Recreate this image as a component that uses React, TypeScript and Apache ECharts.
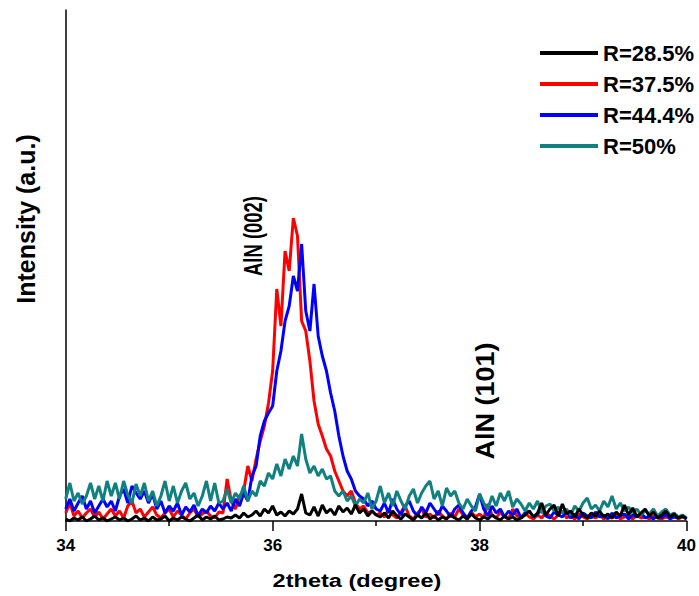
import React, { useEffect, useRef } from 'react';
import * as echarts from 'echarts';

// XRD scans sampled every 0.04 degree from 34 to 40 (151 points)
const START = 34;
const STEP = 0.04;

const seriesNames = ['R=28.5%', 'R=37.5%', 'R=44.4%', 'R=50%'];
const xTicks = [34, 36, 38, 40];

const r285 = [
  2,0,3,1,4,0,2,5,1,3, 0,2,4,1,3,0,2,5,1,3, 0,4,1,2,5,0,3,1,4,2, 0,3,6,1,4,2,5,1,
  2,4,3,6,3,8,4,6,10,5, 12,8,15,6,9,5,10,7,12,27, 8,6,14,5,16,8,12,6,15,9, 13,7,16,8,12,5,10,6,
  4,8,3,10,5,2,7,4,1,6, 3,8,2,5,1,4,2,6,3,1, 5,2,7,3,1,4,2,6,3,1, 5,2,4,1,3,6,10,4,8,18,
  6,12,16,5,17,7,10,4,12,6, 3,8,5,10,4,7,3,9,5,16, 6,13,4,8,12,5,9,3,6,10, 4,7,3,5,2,
];

const r375 = [
  8,18,5,10,3,8,12,4,9,2, 7,12,5,10,3,15,20,8,12,4, 9,14,6,3,8,12,4,10,6,2, 8,12,4,7,10,5,3,9,
  8,42,20,12,25,30,55,40,62,80, 95,118,150,232,195,270,250,303,285,200, 190,160,120,97,85,72,65,50,40,30, 25,30,18,12,15,8,10,6,
  8,4,12,6,3,9,15,5,2,8, 12,4,7,3,10,5,2,8,4,12, 6,2,9,4,7,3,17,6,3,9, 4,2,12,5,3,8,4,2,6,3,
  8,5,2,6,10,3,5,2,7,4, 2,5,3,6,2,4,3,6,2,4, 5,2,6,3,4,2,5,3,2,4, 3,6,2,4,3,
];

const r444 = [
  12,22,10,18,25,12,20,8,15,22, 14,20,10,25,32,18,35,28,22,30, 18,27,12,20,8,15,10,18,6,14, 9,16,5,12,8,15,10,18,
  12,18,10,22,15,28,20,45,55,85, 100,108,115,150,170,200,215,245,230,277, 210,190,237,185,165,150,128,110,85,65, 50,42,30,25,22,15,20,12,
  10,18,8,22,12,6,15,20,10,5, 14,8,18,12,6,15,10,4,12,16, 8,3,10,14,27,12,5,15,8,12, 4,10,6,12,3,8,10,4,7,12,
  5,3,9,6,4,10,3,7,2,8, 5,3,9,4,6,2,8,3,5,7, 2,6,4,8,3,5,2,6,3,7, 2,4,3,5,2,
];

const r50 = [
  22,38,20,28,17,25,38,22,35,20, 40,25,38,22,40,26,18,37,25,38, 20,30,15,25,40,20,35,18,30,38, 22,28,15,25,40,20,38,18,
  20,32,18,28,22,35,20,30,25,40, 35,48,42,57,45,62,52,65,55,87, 62,48,55,45,52,42,45,30,25,30, 20,25,15,22,18,28,12,20,
  35,18,28,15,30,20,12,25,32,18, 28,35,40,22,30,15,33,25,30,18, 12,22,15,10,27,18,12,25,15,28, 20,30,14,22,17,10,18,12,20,8,
  15,17,10,14,8,12,6,15,10,18, 23,12,16,10,20,14,25,12,18,10, 14,8,12,6,10,7,12,5,9,12, 6,8,4,6,3,
];

const colors: Record<string, string> = {
  'R=28.5%': '#000000',
  'R=37.5%': '#ff0000',
  'R=44.4%': '#0000ff',
  'R=50%': '#118080',
};

const twoTheta = r285.map((_, i) => +(START + i * STEP).toFixed(2));

const FONT = "'Liberation Sans', Arial, sans-serif";

const textStyle = (text: string, fontSize: number) => ({
  text,
  fontSize,
  fontWeight: 'bold',
  fontFamily: FONT,
  fill: '#000',
  align: 'center',
  verticalAlign: 'middle',
  textAlign: 'center',
  textVerticalAlign: 'middle',
});

export default function App() {
  const ref = useRef<HTMLDivElement>(null);
  useEffect(() => {
    if (!ref.current) return;
    const chart = echarts.init(ref.current, undefined, { renderer: 'svg' });
    const mk = (name: string, vals: number[]) => ({
      name,
      type: 'line',
      data: twoTheta.map((x, i) => [x, vals[i]]),
      showSymbol: false,
      symbol: 'none',
      color: colors[name],
      lineStyle: { color: colors[name], width: 3 },
      z: 2,
    });
    chart.setOption({
      animation: false,
      grid: { left: 65.7, right: 10, top: 10, bottom: 75 },
      legend: {
        orient: 'vertical',
        left: 535,
        top: 37,
        icon: 'rect',
        itemWidth: 58,
        itemHeight: 4,
        itemGap: 9,
        data: seriesNames,
        textStyle: { fontSize: 22, fontWeight: 'bold', color: '#000', fontFamily: FONT, lineHeight: 22 },
      },
      xAxis: {
        type: 'value',
        min: 34,
        max: 40,
        interval: 2,
        axisLine: { show: true, lineStyle: { color: '#000', width: 1.5 } },
        axisTick: { show: true, length: 10, lineStyle: { color: '#000', width: 1.5 } },
        minorTick: { show: true, splitNumber: 2, length: 5, lineStyle: { color: '#000', width: 1.5 } },
        splitLine: { show: false },
        axisLabel: {
          fontSize: 17,
          fontWeight: 'bold',
          color: '#000',
          fontFamily: FONT,
          margin: 16,
          formatter: (v: number) => (xTicks.includes(v) ? String(v) : ''),
        },
      },
      yAxis: {
        type: 'value',
        min: 0,
        max: 511,
        axisLine: { show: true, lineStyle: { color: '#000', width: 1.5 } },
        axisTick: { show: false },
        axisLabel: { show: false },
        splitLine: { show: false },
      },
      graphic: [
        { type: 'text', x: 357, y: 581, scaleX: 1.24, style: textStyle('2theta (degree)', 19) },
        { type: 'text', x: 26, y: 219, rotation: Math.PI / 2, style: textStyle('Intensity (a.u.)', 25) },
        { type: 'text', x: 253, y: 236, rotation: Math.PI / 2, scaleX: 0.71, style: textStyle('AlN (002)', 26) },
        { type: 'text', x: 485, y: 401, rotation: Math.PI / 2, scaleX: 1.08, style: textStyle('AlN (101)', 25) },
      ],
      series: [mk('R=37.5%', r375), mk('R=44.4%', r444), mk('R=50%', r50), mk('R=28.5%', r285)],
    });
    return () => chart.dispose();
  }, []);
  return (
    <div
      ref={ref}
      style={{ position: 'absolute', left: 0, top: 0, width: 699, height: 596, background: '#fff' }}
    />
  );
}
